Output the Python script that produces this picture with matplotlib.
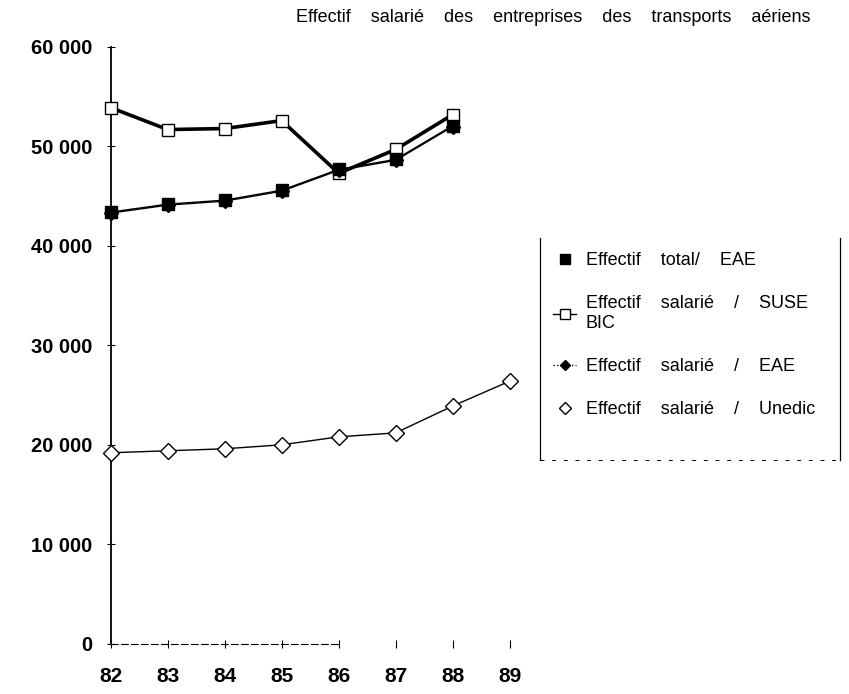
import matplotlib
matplotlib.use("Agg")
import matplotlib.pyplot as plt
from matplotlib.lines import Line2D

years = [82, 83, 84, 85, 86, 87, 88, 89]
year_labels = ["82", "83", "84", "85", "86", "87", "88", "89"]

total_eae = [43400, 44200, 44600, 45600, 47700, 48700, 52100]
suse_bic = [53900, 51700, 51800, 52600, 47300, 49700, 53200]
salarie_eae = [43300, 44100, 44500, 45500, 47600, 48600, 52000]
unedic = [19200, 19400, 19600, 20000, 20800, 21200, 23900, 26400]

y_ticks = [0, 10000, 20000, 30000, 40000, 50000, 60000]
y_labels = ["0", "10 000", "20 000", "30 000", "40 000", "50 000", "60 000"]

labels = ["Effectif    total/    EAE",
          "Effectif    salarié    /    SUSE\nBIC",
          "Effectif    salarié    /    EAE",
          "Effectif    salarié    /    Unedic"]
title = "Effectif    salarié    des    entreprises    des    transports    aériens"

plt.rcParams['font.family'] = ['Liberation Sans', 'DejaVu Sans']

W, H = 849, 694
fig = plt.figure(figsize=(W/100, H/100), dpi=100)
ax = fig.add_axes([110.7/W, 1-643.7/H, 427.5/W, (643.7-47)/H])

ax.plot(years[:7], suse_bic, color='black', lw=2.6, marker='s', ms=9,
        mfc='white', mec='black', mew=1.0, zorder=3, clip_on=False)
ax.plot(years[:7], total_eae, color='black', lw=1.0, marker='s', ms=8,
        mfc='black', mec='black', zorder=4, clip_on=False)
ax.plot(years[:7], salarie_eae, color='black', lw=1.0, marker='D', ms=7,
        mfc='black', mec='black', zorder=4, clip_on=False)
ax.plot(years, unedic, color='black', lw=1.0, marker='D', ms=8,
        mfc='white', mec='black', mew=1.0, zorder=3, clip_on=False)

ax.set_xlim(82, 89.5)
ax.set_ylim(0, 60000)
ax.set_xticks(years)
ax.set_xticklabels(year_labels, fontsize=15, fontweight='bold')
ax.set_yticks(y_ticks)
ax.set_yticklabels(y_labels, fontsize=14.5, fontweight='bold')
ax.tick_params(axis='both', direction='inout', length=6, width=0.8)
ax.tick_params(axis='y', pad=10.5)
ax.tick_params(axis='x', pad=13.5)

for s in ['top', 'right']:
    ax.spines[s].set_visible(False)
ax.spines['left'].set_linewidth(1.3)
ax.spines['bottom'].set_linewidth(0.8)
ax.spines['bottom'].set_linestyle((0, (6, 3)))
ax.spines['bottom'].set_bounds(82, 86)

fig.text(553.5/W, 1-18/H, title, ha='center', va='center', fontsize=13)

handles = [
    Line2D([], [], ls='none', marker='s', ms=7, mfc='black', mec='black'),
    Line2D([], [], ls='-', lw=1, color='black', marker='s', ms=7, mfc='white', mec='black'),
    Line2D([], [], ls=':', lw=1, color='black', marker='D', ms=5, mfc='black', mec='black'),
    Line2D([], [], ls='none', marker='D', ms=6, mfc='white', mec='black'),
]
leg = fig.legend(handles, labels, loc='upper left',
                 bbox_to_anchor=(553/W, 1-252/H), fontsize=13,
                 frameon=False, handlelength=1.3, handletextpad=0.5,
                 labelspacing=1.45, borderpad=0, borderaxespad=0)

x0, x1 = 540/W, 840/W
y0, y1 = 1-460/H, 1-238/H
fig.add_artist(Line2D([x0, x0], [y0, y1], color='black', lw=0.9))
fig.add_artist(Line2D([x1, x1], [y0, y1], color='black', lw=0.9))
fig.add_artist(Line2D([x0, x1], [y0, y0], color='black', lw=0.7, ls=(0, (4, 8))))

fig.savefig("out.png", dpi=100)
